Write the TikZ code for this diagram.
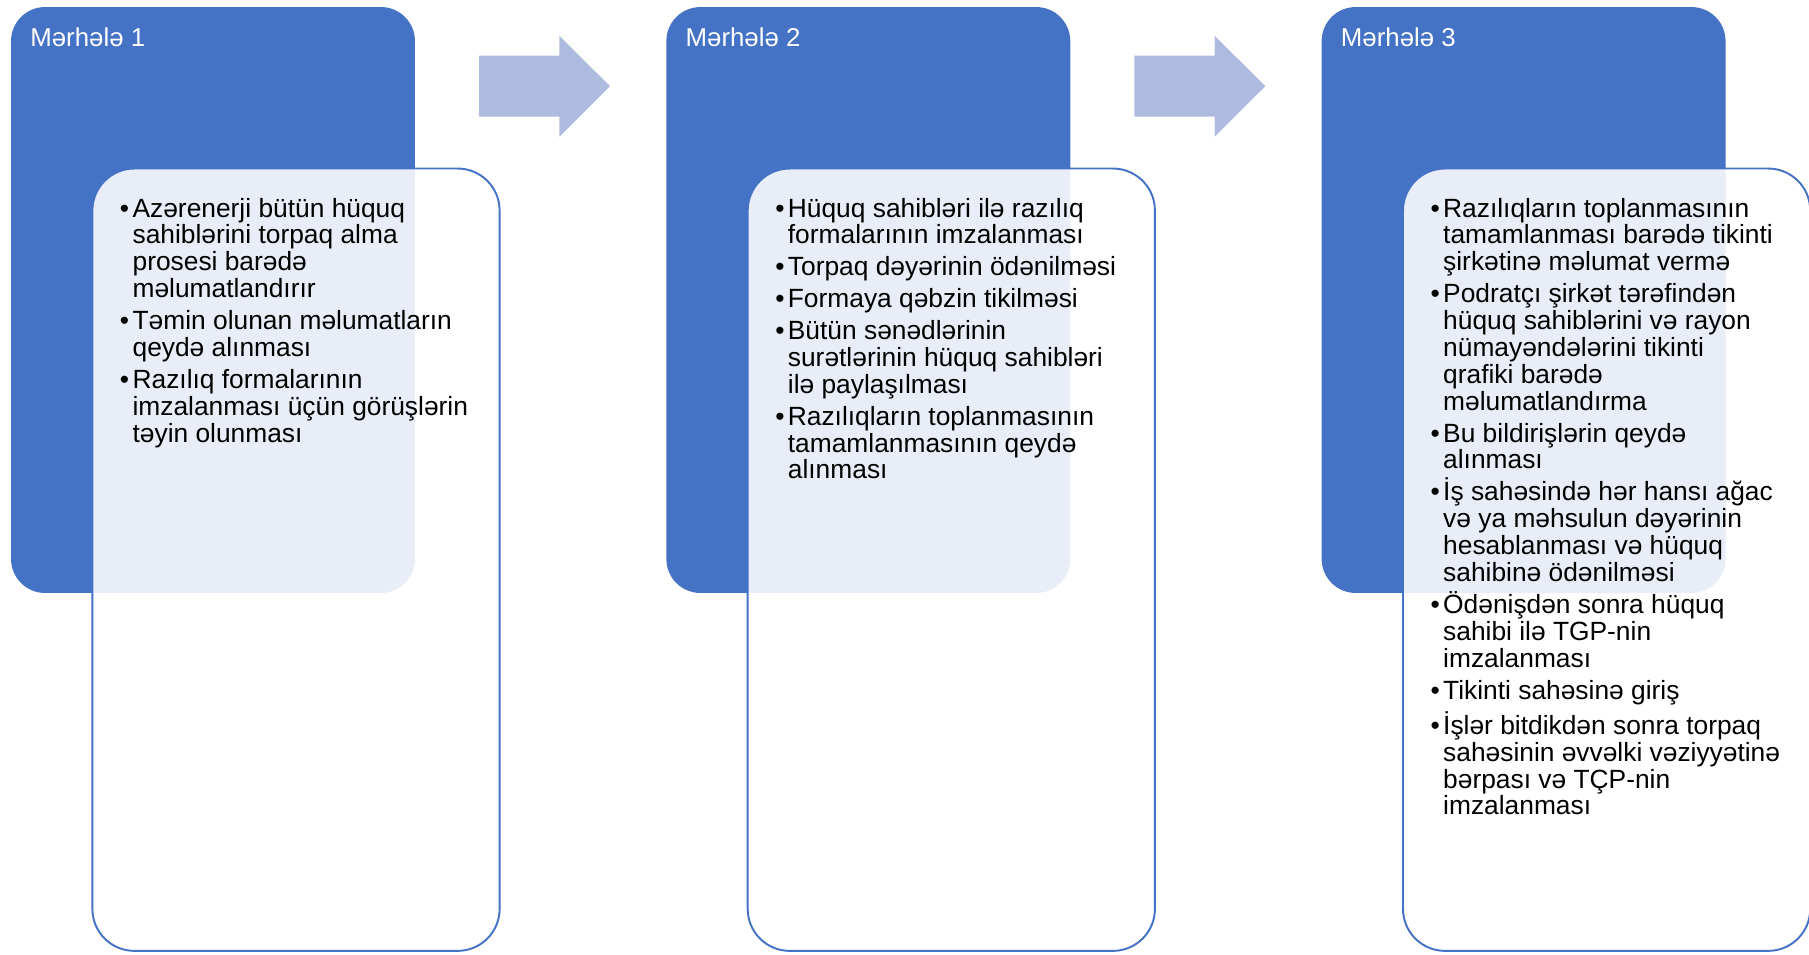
\documentclass[tikz,border=0pt]{standalone}
\usepackage{fontspec}
\setmainfont{Liberation Sans}
\usepackage{xcolor}
\usetikzlibrary{calc}
\definecolor{stageblue}{HTML}{4472C4}
\definecolor{flowblue}{RGB}{174,187,222}
\newcommand{\bitem}[1]{\par\noindent\hangindent=7.2pt\hangafter=1\makebox[7.2pt][l]{\textbullet}#1}
\newcommand{\itemlist}[1]{\parbox[t]{7.6cm}{\setlength{\parskip}{2.85pt}#1}}

\begin{document}
\begin{tikzpicture}[x=0.02cm,y=-0.02cm,
    stage/.style={fill=stageblue, rounded corners=0.68cm, minimum width=8.08cm, minimum height=11.72cm, inner sep=0pt},
    detail/.style={draw=stageblue, line width=1.1pt, fill=white, fill opacity=0.88, rounded corners=0.84cm, minimum width=8.146cm, minimum height=15.65cm, inner sep=0pt},
    title/.style={anchor=base west, inner sep=0pt, text=white, font=\fontsize{14.7}{17}\selectfont},
    items/.style={anchor=base west, inner sep=0pt, font=\fontsize{15}{15.3}\selectfont},
    flow/.style={fill=flowblue}]
    \useasboundingbox (0,0) rectangle (1809,954);
    \clip (0,0) rectangle (1809,954);

    \node[stage] (stage1) at (213,300) {};
    \node[detail] (detail1) at (296,559.7) {};
    \node[title] (title1) at (30,46) {Mərhələ 1};
    \node[items] (items1) at (119.6,217) {\itemlist{%
        \bitem{Azərenerji bütün hüquq\\sahiblərini torpaq alma\\prosesi barədə\\məlumatlandırır}
        \bitem{Təmin olunan məlumatların\\qeydə alınması}
        \bitem{Razılıq formalarının\\imzalanması üçün görüşlərin\\təyin olunması}}};

    \fill[flow] (479,55.7) -- (559.3,55.7) -- (559.3,35.7) -- (610,86.2) -- (559.3,136.7) -- (559.3,116.7) -- (479,116.7) -- cycle;

    \node[stage] (stage2) at (868.3,300) {};
    \node[detail] (detail2) at (951.3,559.7) {};
    \node[title] (title2) at (685.3,46) {Mərhələ 2};
    \node[items] (items2) at (774.9,217) {\itemlist{%
        \bitem{Hüquq sahibləri ilə razılıq\\formalarının imzalanması}
        \bitem{Torpaq dəyərinin ödənilməsi}
        \bitem{Formaya qəbzin tikilməsi}
        \bitem{Bütün sənədlərinin\\surətlərinin hüquq sahibləri\\ilə paylaşılması}
        \bitem{Razılıqların toplanmasının\\tamamlanmasının qeydə\\alınması}}};

    \fill[flow] (1134.3,55.7) -- (1214.6,55.7) -- (1214.6,35.7) -- (1265.3,86.2) -- (1214.6,136.7) -- (1214.6,116.7) -- (1134.3,116.7) -- cycle;

    \node[stage] (stage3) at (1523.6,300) {};
    \node[detail] (detail3) at (1606.6,559.7) {};
    \node[title] (title3) at (1340.6,46) {Mərhələ 3};
    \node[items] (items3) at (1430.2,217) {\itemlist{%
        \bitem{Razılıqların toplanmasının\\tamamlanması barədə tikinti\\şirkətinə məlumat vermə}
        \bitem{Podratçı şirkət tərəfindən\\hüquq sahiblərini və rayon\\nümayəndələrini tikinti\\qrafiki barədə\\məlumatlandırma}
        \bitem{Bu bildirişlərin qeydə\\alınması}
        \bitem{İş sahəsində hər hansı ağac\\və ya məhsulun dəyərinin\\hesablanması və hüquq\\sahibinə ödənilməsi}
        \bitem{Ödənişdən sonra hüquq\\sahibi ilə TGP-nin\\imzalanması}
        \bitem{Tikinti sahəsinə giriş}
        \bitem{İşlər bitdikdən sonra torpaq\\sahəsinin əvvəlki vəziyyətinə\\bərpası və TÇP-nin\\imzalanması}}};
\end{tikzpicture}
\end{document}
